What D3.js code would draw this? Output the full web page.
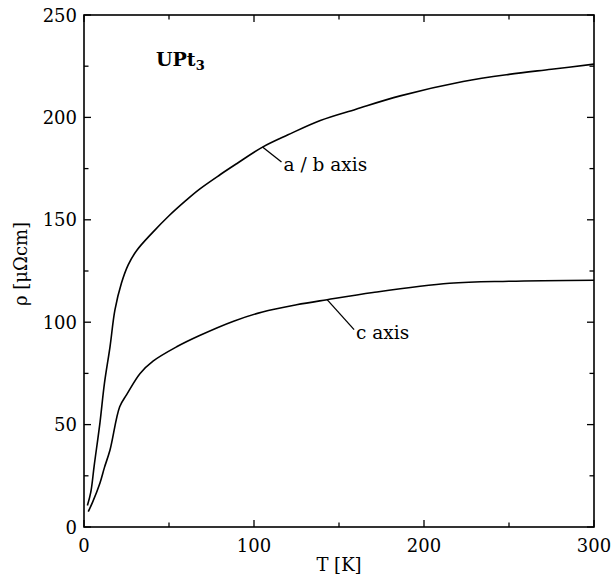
<!DOCTYPE html>
<html>
<head>
<meta charset="utf-8">
<script src="https://cdn.jsdelivr.net/npm/d3@7"></script>
<style>
  body { margin: 0; background: #fff; }
  svg text { font-family: "DejaVu Serif", serif; fill: #000; }
</style>
</head>
<body>
<svg id="chart" width="613" height="575"></svg>
<script>
// resistivity of UPt3 vs temperature, two current directions
var tempAB = [2, 4, 6, 9.4, 12, 15.3, 18.2, 22, 26, 31, 40, 50, 60, 68, 80, 90, 105, 120, 139, 160, 186, 223, 250, 275, 300];
var rhoAB  = [10.5, 17, 30, 51, 70, 88, 106, 119, 128, 135, 143.5, 152, 159.5, 165, 172, 177.5, 185.5, 191.5, 198.5, 204, 210.5, 217.5, 221, 223.5, 226];

var tempC = [2.5, 5, 9.4, 12, 15.3, 21, 25, 33, 40.6, 54.5, 68, 88, 105, 125, 143, 170, 215, 250, 300];
var rhoC  = [7.5, 12, 21.5, 29, 37.6, 58.7, 64.5, 75, 81, 88, 93.5, 100.5, 105, 108.5, 111, 114.5, 119, 120, 120.5];

var xTicks = [0, 100, 200, 300];
var xMinor = [50, 150, 250];
var yTicks = [0, 50, 100, 150, 200, 250];
var yMinor = [25, 75, 125, 175, 225];

(function(){
    var svg = d3.select('#chart'),
        plotLeft = 84, plotRight = 594, plotTop = 15, plotBottom = 527;

    var x = d3.scaleLinear().domain([0, 300]).range([plotLeft, plotRight]);
    var y = d3.scaleLinear().domain([0, 250]).range([plotBottom, plotTop]);

    function pairs(ts, vs) {
        return ts.map(function(t, i) { return [t, vs[i]]; });
    }

    var line = d3.line()
        .x(function(d) { return x(d[0]); })
        .y(function(d) { return y(d[1]); })
        .curve(d3.curveCatmullRom.alpha(0.5));

    // frame
    svg.append('rect')
        .attr('x', plotLeft).attr('y', plotTop)
        .attr('width', plotRight - plotLeft).attr('height', plotBottom - plotTop)
        .attr('fill', 'none').attr('stroke', '#000').attr('stroke-width', 1.6);

    // inward ticks on all four sides
    var ticks = svg.append('g').attr('stroke', '#000').attr('stroke-width', 1.3);
    function xTick(v, len) {
        ticks.append('line').attr('x1', x(v)).attr('x2', x(v)).attr('y1', plotBottom).attr('y2', plotBottom - len);
        ticks.append('line').attr('x1', x(v)).attr('x2', x(v)).attr('y1', plotTop).attr('y2', plotTop + len);
    }
    function yTick(v, len) {
        ticks.append('line').attr('y1', y(v)).attr('y2', y(v)).attr('x1', plotLeft).attr('x2', plotLeft + len);
        ticks.append('line').attr('y1', y(v)).attr('y2', y(v)).attr('x1', plotRight).attr('x2', plotRight - len);
    }
    xTicks.forEach(function(v) { xTick(v, 7); });
    xMinor.forEach(function(v) { xTick(v, 4.5); });
    yTicks.forEach(function(v) { yTick(v, 7); });
    yMinor.forEach(function(v) { yTick(v, 4.5); });

    svg.append('g').selectAll('text')
        .data(xTicks).enter().append('text')
        .attr('x', function(d) { return x(d); })
        .attr('y', 552)
        .attr('text-anchor', 'middle')
        .attr('font-size', 18)
        .text(function(d) { return d; });

    svg.append('g').selectAll('text')
        .data(yTicks).enter().append('text')
        .attr('x', 77)
        .attr('y', function(d) { return y(d) + 6.5; })
        .attr('text-anchor', 'end')
        .attr('font-size', 18)
        .text(function(d) { return d; });

    // curves
    svg.append('path')
        .datum(pairs(tempAB, rhoAB))
        .attr('d', line)
        .attr('fill', 'none').attr('stroke', '#000').attr('stroke-width', 1.6);

    svg.append('path')
        .datum(pairs(tempC, rhoC))
        .attr('d', line)
        .attr('fill', 'none').attr('stroke', '#000').attr('stroke-width', 1.6);

    // leader lines + labels
    var labels = [
        {t: 105, rho: 185.5, dx: 19, dy: 15, text: 'a / b axis'},
        {t: 143, rho: 111, dx: 27, dy: 30, text: 'c axis'}
    ];
    labels.forEach(function(l) {
        var px = x(l.t), py = y(l.rho);
        svg.append('line')
            .attr('x1', px).attr('y1', py)
            .attr('x2', px + l.dx).attr('y2', py + l.dy)
            .attr('stroke', '#000').attr('stroke-width', 1.3);
        svg.append('text')
            .attr('x', px + l.dx + 2)
            .attr('y', py + l.dy + 9)
            .attr('font-size', 18.5)
            .text(l.text);
    });

    // title
    var title = svg.append('text')
        .attr('x', 156).attr('y', 66)
        .attr('font-size', 19).attr('font-weight', 'bold');
    title.append('tspan').text('UPt');
    title.append('tspan').attr('font-size', 13).attr('dy', 4).text('3');

    // axis titles
    svg.append('text')
        .attr('x', x(150)).attr('y', 571)
        .attr('text-anchor', 'middle')
        .attr('font-size', 18)
        .text('T [K]');

    svg.append('text')
        .attr('transform', 'translate(27,264) rotate(-90)')
        .attr('text-anchor', 'middle')
        .attr('font-size', 18)
        .text('ρ [μΩcm]');
})();
</script>
</body>
</html>
